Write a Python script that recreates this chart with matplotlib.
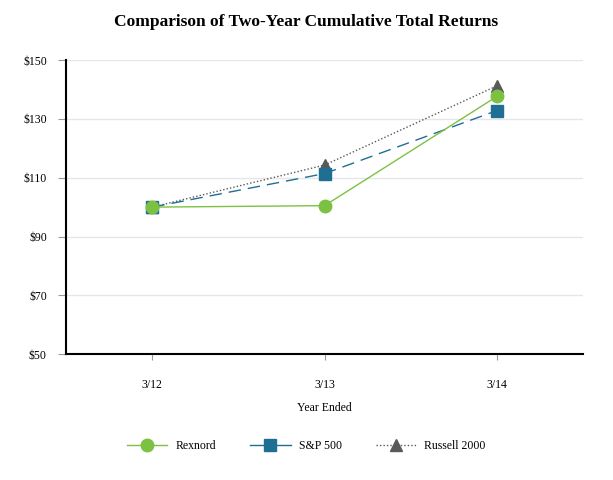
import matplotlib
matplotlib.use("Agg")
import matplotlib.pyplot as plt
from matplotlib.lines import Line2D

categories = ["3/12", "3/13", "3/14"]
rexnord = [100.0, 100.5, 137.6]
sp500 = [100.0, 111.4, 132.8]
russell = [100.0, 114.3, 141.2]
yticks = [50, 70, 90, 110, 130, 150]
ytick_labels = ["$50", "$70", "$90", "$110", "$130", "$150"]

plt.rcParams['font.family'] = ['Liberation Serif', 'DejaVu Serif']

fig = plt.figure(figsize=(6.13, 4.80), dpi=100)
ax = fig.add_axes([0.108, 0.262, 0.843, 0.613])

green, blue, gray = "#7dc142", "#1f6e94", "#595959"
x = list(range(len(categories)))
ax.plot(x, russell, color=gray, lw=1.0, ls=(0, (1, 1.5)), marker="^", ms=9, zorder=3)
ax.plot(x, sp500, color=blue, lw=1.0, ls=(0, (9, 5)), marker="s", ms=9, zorder=4)
ax.plot(x, rexnord, color=green, lw=1.0, marker="o", ms=9, zorder=5)

ax.set_xlim(-0.5, 2.5)
ax.set_ylim(50, 150)
ax.set_yticks(yticks)
ax.set_yticklabels(ytick_labels, fontsize=8.5)
ax.set_xticks(x)
ax.set_xticklabels(categories, fontsize=8.5)
ax.grid(axis="y", color="#e6e6e6", lw=1.0)
ax.set_axisbelow(True)
for s in ["top", "right"]:
    ax.spines[s].set_visible(False)
ax.spines["left"].set_linewidth(1.5)
ax.spines["bottom"].set_linewidth(1.5)
ax.tick_params(axis="y", length=6, color="#999999", pad=8)
ax.tick_params(axis="x", length=4, color="#999999", pad=14)
ax.set_xlabel("Year Ended", fontsize=8.5, labelpad=8)

fig.suptitle("Comparison of Two-Year Cumulative Total Returns", fontsize=12.5, fontweight="bold", y=0.97)

handles = [
    Line2D([], [], color=green, lw=1.0, marker="o", ms=9),
    Line2D([], [], color=blue, lw=1.0, ls="-", marker="s", ms=9),
    Line2D([], [], color=gray, lw=1.0, ls=(0, (1, 1.5)), marker="^", ms=9),
]
fig.legend(handles, ["Rexnord", "S&P 500", "Russell 2000"],
           loc="center", bbox_to_anchor=(0.5, 0.07), ncol=3, frameon=False, fontsize=8.5,
           handlelength=3.4, columnspacing=2.9, handletextpad=0.7)

fig.savefig("out.png", dpi=100)
